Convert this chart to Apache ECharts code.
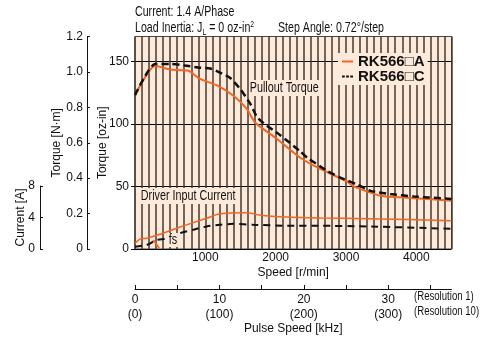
<!DOCTYPE html>
<html><head><meta charset="utf-8">
<script src="https://cdn.jsdelivr.net/npm/echarts@6/dist/echarts.min.js"></script>
<style>html,body{margin:0;padding:0;background:#fff}#c{width:482px;height:337px}</style>
</head><body><div id="c"></div>
<script>
// ---- data ----
const speedTicks = [1000, 2000, 3000, 4000];
const pulseLabelTicks = [0, 10, 20, 30];
const pulseTicks = [0, 5, 10, 15, 20, 25, 30, 35];
const ozTicks = [0, 50, 100, 150];

const pulloutA_rpm = [0, 285, 500, 760, 925, 1160, 1400, 1590, 1710, 2020, 2350, 2635, 3015, 3110, 3300, 3490, 3775, 4155, 4500];
const pulloutA_oz  = [123, 146.5, 143.5, 142.5, 136, 131, 122.5, 112, 101, 88, 73, 64, 54, 50, 46, 42.6, 41.3, 40, 38.5];

const pulloutC_rpm = [0, 285, 500, 735, 925, 1070, 1210, 1350, 1495, 1640, 1730, 1830, 2065, 2350, 2450, 2730, 2920, 3160, 3350, 3630, 3965, 4500];
const pulloutC_oz  = [123, 148, 148, 146.5, 145, 144.4, 141, 137, 128, 116, 106, 100.5, 91, 78, 73, 62.5, 57, 51.5, 46.5, 44, 42, 40];

const currentA_rpm = [0, 70, 165, 400, 640, 880, 1020, 1190, 1590, 1780, 2160, 2635, 3300, 4500];
const currentA_amp = [0.73, 1.25, 1.37, 2.0, 2.8, 3.5, 3.9, 4.45, 4.6, 4.3, 4.07, 3.95, 3.85, 3.6];

const currentC_rpm = [0, 165, 310, 500, 640, 830, 1020, 1210, 1400, 1685, 2160, 2635, 3300, 4500];
const currentC_amp = [0.3, 0.5, 1.15, 1.37, 2.0, 2.45, 2.87, 3.08, 3.2, 3.08, 2.95, 2.95, 2.87, 2.57];

const fs_rpm = [260, 345];
const fs_amp = [1.15, 0.1];

const seriesNames = ['RK566\u25A1A', 'RK566\u25A1C'];

// ---- styling ----
const FONT = "'Liberation Sans',Arial,sans-serif";
const PEACH = '#fdeadb';
const ORANGE = '#f26522';
const INK = '#111';
const NM_PER_OZIN = 0.00706155;
const ozMax = 1.2 / NM_PER_OZIN;
const SX = 0.77;

function pairs(xs, ys) { return xs.map((x, i) => [x, ys[i]]); }

const chart = echarts.init(document.getElementById('c'), null, {renderer: 'canvas'});
const nameStyle = {fontSize: 12, color: INK, fontFamily: FONT};
const option = {
  animation: false,
  textStyle: {fontFamily: FONT},
  grid: [
    {left: 135, right: 30.5, top: 36.5, bottom: 88, show: true, backgroundColor: PEACH, borderColor: '#444', borderWidth: 1},
    {left: 135, right: 30.5, top: 186, bottom: 88, show: false},
    {left: 135, right: 30.5, top: 288, height: 1, show: false}
  ],
  xAxis: [
    {gridIndex: 0, type: 'value', min: 0, max: 4500, interval: 100,
     axisLine: {show: false}, axisTick: {show: false},
     axisLabel: {customValues: speedTicks, formatter: v => String(v), fontSize: 12, color: INK, margin: 3, fontFamily: FONT},
     splitLine: {show: true, lineStyle: {color: '#45382f', width: 1.5}},
     name: 'Speed [r/min]', nameLocation: 'middle', nameGap: 18, nameMoveOverlap: false,
     nameTextStyle: nameStyle},
    {gridIndex: 1, type: 'value', min: 0, max: 4500, show: false},
    {gridIndex: 2, type: 'value', min: 0, max: 37.5, interval: 5,
     axisLine: {show: true, onZero: false, lineStyle: {color: INK, width: 1}},
     axisTick: {show: true, inside: true, length: 4, customValues: pulseTicks, lineStyle: {color: INK}},
     axisLabel: {customValues: pulseLabelTicks, formatter: v => v + '\n(' + (v * 10) + ')',
                 lineHeight: 15, fontSize: 12, color: INK, margin: 3, fontFamily: FONT},
     splitLine: {show: false},
     name: 'Pulse Speed [kHz]', nameLocation: 'middle', nameGap: 34, nameMoveOverlap: false,
     nameTextStyle: nameStyle}
  ],
  yAxis: [
    {gridIndex: 0, type: 'value', min: 0, max: ozMax, interval: 50, position: 'left',
     axisLine: {show: false, onZero: false},
     axisTick: {show: true, length: 4, customValues: ozTicks, lineStyle: {color: INK}},
     axisLabel: {customValues: ozTicks, fontSize: 12, color: INK, margin: 6, fontFamily: FONT},
     splitLine: {show: true, lineStyle: {color: '#000', width: 1}},
     name: 'Torque [oz-in]', nameLocation: 'middle', nameGap: 26, nameRotate: 90, nameMoveOverlap: false,
     nameTextStyle: nameStyle},
    {gridIndex: 0, type: 'value', min: 0, max: 1.2, interval: 0.2, position: 'left', offset: 48,
     axisLine: {show: true, onZero: false, lineStyle: {color: INK, width: 1}},
     axisTick: {show: true, inside: true, length: 3, lineStyle: {color: INK}},
     axisLabel: {formatter: v => v === 0 ? '0' : v.toFixed(1), fontSize: 12, color: INK, margin: 4, fontFamily: FONT},
     splitLine: {show: false},
     name: 'Torque [N\u00B7m]', nameLocation: 'middle', nameGap: 24, nameRotate: 90, nameMoveOverlap: false,
     nameTextStyle: nameStyle},
    {gridIndex: 1, type: 'value', min: 0, max: 8, interval: 4, position: 'left', offset: 95,
     axisLine: {show: true, onZero: false, lineStyle: {color: INK, width: 1}},
     axisTick: {show: true, inside: true, length: 3, lineStyle: {color: INK}},
     axisLabel: {fontSize: 12, color: INK, margin: 5, fontFamily: FONT},
     splitLine: {show: false},
     name: 'Current [A]', nameLocation: 'middle', nameGap: 13, nameRotate: 90, nameMoveOverlap: false,
     nameTextStyle: nameStyle},
    {gridIndex: 2, type: 'value', show: false}
  ],
  legend: {
    data: [
      {name: seriesNames[0], icon: 'path://M0,0h12v2h-12z', itemStyle: {color: ORANGE, borderWidth: 0}},
      {name: seriesNames[1], icon: 'path://M0,0h3v2h-3zM4.5,0h3v2h-3zM9,0h3v2h-3z', itemStyle: {color: INK, borderWidth: 0}}
    ],
    orient: 'vertical', left: 338, top: 53,
    itemWidth: 11, itemHeight: 2, itemGap: 0, padding: [1, 3, 1, 4],
    backgroundColor: PEACH, selectedMode: false, symbolKeepAspect: false,
    textStyle: {fontFamily: FONT, fontWeight: 'bold', fontSize: 15, color: INK, lineHeight: 15}
  },
  series: [
    {name: seriesNames[0], type: 'line', xAxisIndex: 0, yAxisIndex: 0, data: pairs(pulloutA_rpm, pulloutA_oz),
     symbol: 'none', smooth: 0.2, lineStyle: {color: ORANGE, width: 2}, itemStyle: {color: ORANGE}, z: 3},
    {name: seriesNames[1], type: 'line', xAxisIndex: 0, yAxisIndex: 0, data: pairs(pulloutC_rpm, pulloutC_oz),
     symbol: 'none', smooth: 0.2, lineStyle: {color: INK, width: 2.5, type: [7, 4]}, itemStyle: {color: INK}, z: 4},
    {name: seriesNames[0], type: 'line', xAxisIndex: 1, yAxisIndex: 2, data: pairs(currentA_rpm, currentA_amp),
     symbol: 'none', smooth: 0.2, lineStyle: {color: ORANGE, width: 1.5}, itemStyle: {color: ORANGE}, z: 3},
    {name: seriesNames[1], type: 'line', xAxisIndex: 1, yAxisIndex: 2, data: pairs(currentC_rpm, currentC_amp),
     symbol: 'none', smooth: 0.2, lineStyle: {color: INK, width: 2, type: [7, 5]}, itemStyle: {color: INK}, z: 4},
    {name: 'fs', type: 'line', xAxisIndex: 1, yAxisIndex: 2, data: pairs(fs_rpm, fs_amp),
     symbol: 'none', lineStyle: {color: ORANGE, width: 1.8}, z: 3}
  ],
  graphic: [
    {type: 'text', x: 135, y: 5, scaleX: 0.76, z: 10, style: {text: 'Current: 1.4 A/Phase', fill: INK, fontSize: 14, fontFamily: FONT}},
    {type: 'text', x: 135, y: 20, scaleX: 0.76, z: 10, style: {
      text: '{n|Load Inertia: J}{s|L}{n| = 0 oz-in}{p|2}', fill: INK,
      rich: {n: {fontSize: 14, fontFamily: FONT, lineHeight: 17, fill: INK},
             s: {fontSize: 9, fontFamily: FONT, verticalAlign: 'bottom', fill: INK},
             p: {fontSize: 9, fontFamily: FONT, verticalAlign: 'top', fill: INK}}}},
    {type: 'text', x: 278, y: 20, scaleX: 0.76, z: 10, style: {
      text: '{n|Step Angle: 0.72\u00B0/step}', fill: INK,
      rich: {n: {fontSize: 14, fontFamily: FONT, lineHeight: 17, fill: INK}}}},
    {type: 'text', x: 249, y: 80, scaleX: SX, z: 10, style: {text: 'Pullout Torque', fill: INK, fontSize: 14, fontFamily: FONT, backgroundColor: PEACH, padding: [1, 1]}},
    {type: 'text', x: 140, y: 188, scaleX: SX, z: 10, style: {text: 'Driver Input Current', fill: INK, fontSize: 14, fontFamily: FONT, backgroundColor: PEACH, padding: [1, 1]}},
    {type: 'text', x: 168, y: 233, scaleX: SX, z: 10, style: {text: 'fs', fill: INK, fontSize: 14, fontFamily: FONT, backgroundColor: PEACH, padding: [0, 1]}},
    {type: 'text', x: 414, y: 291, scaleX: 0.8, z: 10, style: {text: '(Resolution 1)', fill: INK, fontSize: 12, fontFamily: FONT}},
    {type: 'text', x: 414, y: 306, scaleX: 0.8, z: 10, style: {text: '(Resolution 10)', fill: INK, fontSize: 12, fontFamily: FONT}}
  ]
};
chart.setOption(option);
</script>
</body></html>
